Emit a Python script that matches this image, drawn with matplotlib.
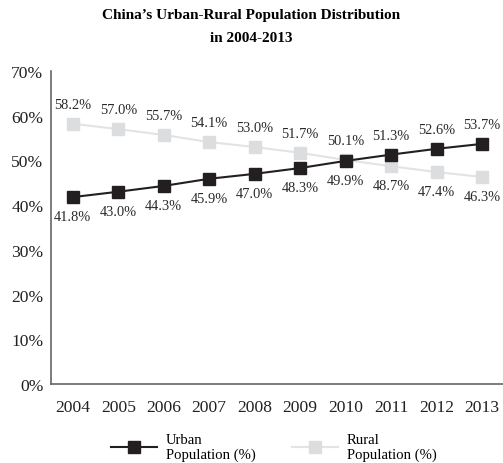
import matplotlib
matplotlib.use("Agg")
import matplotlib.pyplot as plt
from matplotlib.ticker import FuncFormatter

years = [2004, 2005, 2006, 2007, 2008, 2009, 2010, 2011, 2012, 2013]
urban = [41.8, 43.0, 44.3, 45.9, 47.0, 48.3, 49.9, 51.3, 52.6, 53.7]
rural = [58.2, 57.0, 55.7, 54.1, 53.0, 51.7, 50.1, 48.7, 47.4, 46.3]
yticks = [0, 10, 20, 30, 40, 50, 60, 70]

plt.rcParams['font.family'] = ['Liberation Serif', 'DejaVu Serif']

fig = plt.figure(figsize=(5.03, 4.64), dpi=100)
ax = fig.add_axes([51/503, 1-385/464, 452/503, (385-72)/464])

urban_c = '#231f20'
rural_c = '#dcdddf'
ax.plot(years, rural, color='#e3e3e3', lw=1.5, marker='s', ms=8.5,
        mfc=rural_c, mec=rural_c, label='Rural\nPopulation (%)', zorder=2)
ax.plot(years, urban, color=urban_c, lw=1.5, marker='s', ms=8.5,
        mfc=urban_c, mec=urban_c, label='Urban\nPopulation (%)', zorder=3)

for x, u, r in zip(years, urban, rural):
    if u > r:
        uo, ro = 14, -14
    else:
        uo, ro = -14, 14
    ax.annotate(f'{u:.1f}%', (x, u), xytext=(0, uo), textcoords='offset points',
                ha='center', va='center', fontsize=10.4, color='#2a2a2a')
    ax.annotate(f'{r:.1f}%', (x, r), xytext=(0, ro), textcoords='offset points',
                ha='center', va='center', fontsize=10.4, color='#2a2a2a')

ax.set_xlim(2003.52, 2013.46)
ax.set_ylim(0, 70)
ax.set_xticks(years)
ax.set_yticks(yticks)
ax.yaxis.set_major_formatter(FuncFormatter(lambda v, p: f'{int(v)}%'))
ax.tick_params(length=0, labelsize=12.6, colors='#222222')
ax.tick_params(axis='x', pad=11)
ax.tick_params(axis='y', pad=5.5)
for s in ['top', 'right']:
    ax.spines[s].set_visible(False)
for s in ['left', 'bottom']:
    ax.spines[s].set_color('#666666')
    ax.spines[s].set_linewidth(1.2)

handles, labels = ax.get_legend_handles_labels()
leg = fig.legend(handles[::-1], labels[::-1], loc='center', bbox_to_anchor=(274/503, 1-448/464),
                 ncol=2, frameon=False, fontsize=10.6, handlelength=3.1, columnspacing=2.5,
                 handletextpad=0.6)

fig.text(0.5, 1-16/464, 'China\u2019s Urban-Rural Population Distribution', ha='center', va='center',
         fontsize=11, fontweight='bold')
fig.text(0.5, 1-39/464, 'in 2004-2013', ha='center', va='center', fontsize=11, fontweight='bold')

fig.savefig('out.png', dpi=100)
